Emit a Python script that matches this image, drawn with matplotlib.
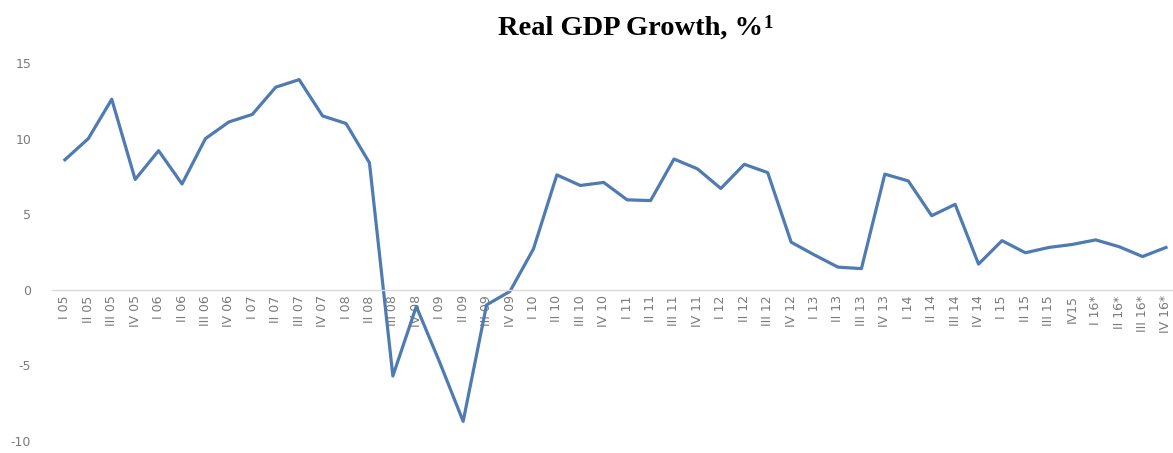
import matplotlib.pyplot as plt

# quarterly real GDP growth, %
quarters = ['I 05', 'II 05', 'III 05', 'IV 05',
            'I 06', 'II 06', 'III 06', 'IV 06',
            'I 07', 'II 07', 'III 07', 'IV 07',
            'I 08', 'II 08', 'III 08', 'IV 08',
            'I 09', 'II 09', 'III 09', 'IV 09',
            'I 10', 'II 10', 'III 10', 'IV 10',
            'I 11', 'II 11', 'III 11', 'IV 11',
            'I 12', 'II 12', 'III 12', 'IV 12',
            'I 13', 'II 13', 'III 13', 'IV 13',
            'I 14', 'II 14', 'III 14', 'IV 14',
            'I 15', 'II 15', 'III 15', 'IV15',
            'I 16*', 'II 16*', 'III 16*', 'IV 16*']
growth = [8.6, 10.0, 12.6, 7.3,
          9.2, 7.0, 10.0, 11.1,
          11.6, 13.4, 13.9, 11.5,
          11.0, 8.4, -5.7, -1.1,
          -4.8, -8.7, -1.0, -0.1,
          2.7, 7.6, 6.9, 7.1,
          5.95, 5.9, 8.65, 8.0,
          6.7, 8.3, 7.75, 3.15,
          2.3, 1.5, 1.4, 7.65,
          7.2, 4.9, 5.65, 1.7,
          3.25, 2.45, 2.8, 3.0,
          3.3, 2.85, 2.2, 2.8]
yticks = [-10, -5, 0, 5, 10, 15]

W, H = 1173, 453
fig = plt.figure(figsize=(W / 100, H / 100), dpi=100)
ax = fig.add_axes([52 / W, 12 / H, 1121 / W, 378 / H])

x = list(range(len(quarters)))
ax.plot(x, growth, color='#4f7bb3', linewidth=2.3, solid_joinstyle='round')

ax.set_xlim(-0.55, 47.3)
ax.set_ylim(-10, 15)

# category axis sits on the zero line
for side in ['top', 'right', 'left']:
    ax.spines[side].set_visible(False)
ax.spines['bottom'].set_position(('data', 0))
ax.spines['bottom'].set_color('#d9d9d9')
ax.spines['bottom'].set_linewidth(1.0)

tick_font = dict(fontsize=9, color='#7a7a7a')
ax.set_xticks(x)
ax.set_xticklabels(quarters, rotation=90, **tick_font)
ax.set_yticks(yticks)
ax.set_yticklabels([str(v) for v in yticks], **tick_font)
ax.tick_params(axis='x', length=0, pad=4)
ax.tick_params(axis='y', length=0, pad=15)

title = fig.text(630 / W, 1 - 35 / H, 'Real GDP Growth, %', ha='center',
                 va='baseline', fontsize=20.5, fontweight='bold',
                 family='Liberation Serif')
ax.annotate('1', xy=(1, 1), xycoords=title, xytext=(1, 0.5),
            textcoords='offset points', va='top', ha='left',
            fontsize=13.5, fontweight='bold', family='Liberation Serif')

fig.savefig('out.png', dpi=100)
